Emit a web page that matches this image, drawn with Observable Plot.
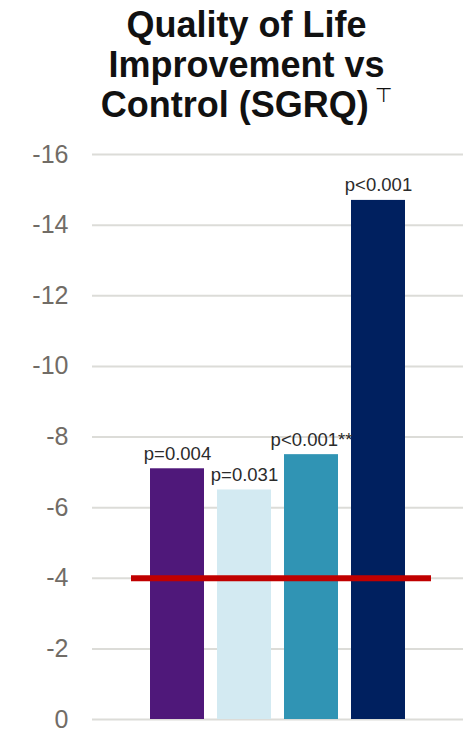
<!DOCTYPE html>
<html>
<head>
<meta charset="utf-8">
<script src="https://cdn.jsdelivr.net/npm/d3@7"></script>
<script src="https://cdn.jsdelivr.net/npm/@observablehq/plot@0.6"></script>
<style>
  html, body { margin: 0; padding: 0; background: #fff; }
  body { width: 475px; height: 732px; overflow: hidden; font-family: "Liberation Sans", Arial, sans-serif; }
  #title { height: 140px; box-sizing: border-box; padding-top: 5px; padding-left: 18px; text-align: center;
    font-size: 36px; font-weight: bold; line-height: 40px; color: #111; }
  #title .mark { font-weight: normal; font-size: 20px; position: relative; top: -15px; margin-left: 6px; font-family: "DejaVu Sans", sans-serif; }
  #chart svg { display: block; }
</style>
</head>
<body>
<div id="title">Quality of Life<br>Improvement vs<br>Control (SGRQ)<span class="mark">⊤</span></div>
<div id="chart"></div>
<script>
const groups = ["A", "B", "C", "D"];
const values = [-7.1, -6.5, -7.5, -14.7];
const pLabels = ["p=0.004", "p=0.031", "p<0.001**", "p<0.001"];
const colors = ["#4f187a", "#d3eaf2", "#3094b4", "#00205f"];
const yTicks = [0, -2, -4, -6, -8, -10, -12, -14, -16];
const threshold = [-4];

const data = groups.map((g, i) => ({group: g, value: values[i], label: pLabels[i], color: colors[i]}));

const chart = Plot.plot({
  width: 475,
  height: 592,
  marginTop: 14,
  marginBottom: 13,
  marginLeft: 92,
  marginRight: 12,
  style: {fontFamily: "'Liberation Sans', Arial, sans-serif", background: "#fff"},
  x: {domain: groups, paddingInner: 0.2, paddingOuter: 0.84, axis: null},
  y: {domain: [0, -16], ticks: yTicks, tickSize: 0, tickPadding: 24, tickFormat: d => String(d), label: null},
  marks: [
    Plot.ruleY(yTicks, {stroke: "#dcdcd8", strokeWidth: 2}),
    Plot.barY(data, {x: "group", y: "value", fill: "color"}),
    Plot.ruleY(threshold, {stroke: "#c00000", strokeWidth: 6, insetLeft: 39, insetRight: 32}),
    Plot.text(data, {x: "group", y: "value", text: "label", lineAnchor: "bottom", dy: -9, fontSize: 18.5, fill: "#2b2b2b"}),
    Plot.axisY({ticks: yTicks, tickSize: 0, tickPadding: 24, tickFormat: d => String(d), fontSize: 25, color: "#716c66", label: null})
  ]
});
document.getElementById("chart").appendChild(chart);
</script>
</body>
</html>
